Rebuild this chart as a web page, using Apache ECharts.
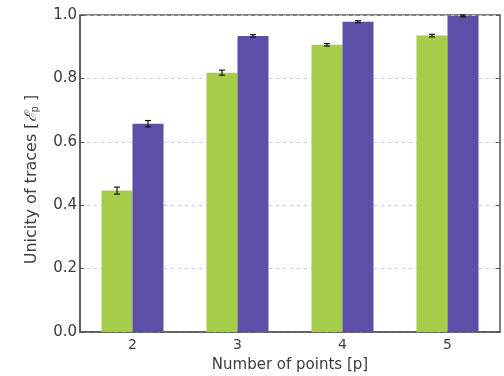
<!DOCTYPE html>
<html><head><meta charset="utf-8">
<script src="https://cdn.jsdelivr.net/npm/echarts@6/dist/echarts.min.js"></script>
<style>html,body{margin:0;padding:0;background:#fff}#c{width:504px;height:376px}</style>
</head><body><div id="c"></div>
<script>
const categories = ['2', '3', '4', '5'];
const greenValues = [0.446, 0.818, 0.906, 0.935];
const greenErrors = [0.011, 0.008, 0.004, 0.004];
const blueValues = [0.657, 0.934, 0.979, 0.997];
const blueErrors = [0.010, 0.004, 0.003, 0.003];
const yTicks = [0.0, 0.2, 0.4, 0.6, 0.8, 1.0];

const BAR_W = 31;
const chart = echarts.init(document.getElementById('c'));
function errSeries(vals, errs, dir) {
  return {
    type: 'custom', z: 10,
    data: vals.map((v, i) => [i, v - errs[i], v + errs[i]]),
    renderItem: function (params, api) {
      const lo = api.coord([api.value(0), api.value(1)]);
      const hi = api.coord([api.value(0), api.value(2)]);
      const x = lo[0] + dir * BAR_W / 2;
      const cap = 3;
      const st = { stroke: '#111', lineWidth: 1.2 };
      return { type: 'group', children: [
        { type: 'line', shape: { x1: x, y1: lo[1], x2: x, y2: hi[1] }, style: st },
        { type: 'line', shape: { x1: x - cap, y1: lo[1], x2: x + cap, y2: lo[1] }, style: st },
        { type: 'line', shape: { x1: x - cap, y1: hi[1], x2: x + cap, y2: hi[1] }, style: st }
      ]};
    }
  };
}
const font = 'DejaVu Sans';
const tc = '#3c3c3c';
chart.setOption({
  animation: false,
  grid: { left: 80, right: 4, top: 15, bottom: 44, show: true, borderColor: '#555', borderWidth: 1.5,
    containLabel: false, outerBoundsMode: 'none' },
  xAxis: {
    type: 'category', data: categories,
    name: 'Number of points [p]', nameLocation: 'middle', nameGap: 26,
    nameTextStyle: { fontFamily: font, fontSize: 15, color: tc },
    axisLine: { lineStyle: { color: '#555', width: 1.5 } },
    axisTick: { inside: true, alignWithLabel: true, length: 3, lineStyle: { color: '#555' } },
    axisLabel: { fontFamily: font, fontSize: 14, color: tc, margin: 6 }
  },
  yAxis: [{
    type: 'value', min: 0, max: 1, interval: 0.2,
    name: '{a|Unicity of traces [}{e|ℰ}{s|p}{a| ]}', nameLocation: 'middle', nameGap: 40,
    nameTextStyle: { fontFamily: font, fontSize: 16, color: tc, padding: [0, 12, 0, 0],
      rich: { a: { fontFamily: font, fontSize: 16, color: tc },
              e: { fontFamily: 'DejaVu Serif', fontStyle: 'italic', fontSize: 16, color: tc },
              s: { fontFamily: font, fontSize: 10, color: tc, verticalAlign: 'bottom', padding: [7, 0, 0, 0] } } },
    axisLine: { show: true, lineStyle: { color: '#555', width: 1.5 } },
    axisTick: { show: true, inside: true, length: 4, lineStyle: { color: '#555' } },
    axisLabel: { fontFamily: font, fontSize: 15, color: tc, margin: 3,
      formatter: v => v.toFixed(1) },
    splitLine: { show: true, lineStyle: { color: '#ccc', type: [3, 4], width: 1 } }
  }, {
    type: 'value', min: 0, max: 1, interval: 0.2, position: 'right',
    axisLine: { show: false },
    axisTick: { show: true, inside: true, length: 4, lineStyle: { color: '#555' } },
    axisLabel: { show: false }, splitLine: { show: false }
  }],
  series: [
    { type: 'bar', data: greenValues, barWidth: BAR_W, barGap: '0%', itemStyle: { color: '#a5cd4a' } },
    { type: 'bar', data: blueValues, barWidth: BAR_W, barGap: '0%', itemStyle: { color: '#5b4fa8' } },
    errSeries(greenValues, greenErrors, -1),
    errSeries(blueValues, blueErrors, 1)
  ]
});
</script></body></html>
